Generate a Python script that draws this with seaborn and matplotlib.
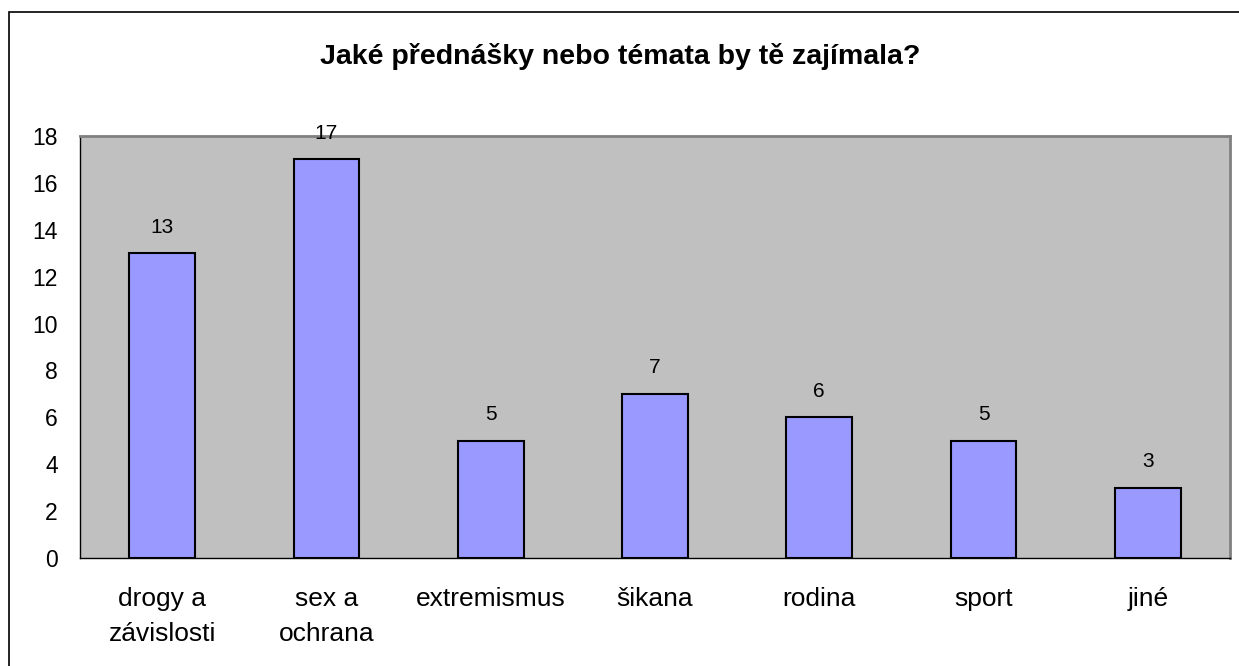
import matplotlib
matplotlib.use('Agg')
import matplotlib.pyplot as plt
import seaborn as sns
import numpy as np
import pandas as pd
from matplotlib.patches import Rectangle

# data
categories = ['drogy a\nzávislosti', 'sex a\nochrana', 'extremismus', 'šikana', 'rodina', 'sport', 'jiné']
counts = [13, 17, 5, 7, 6, 5, 3]
title = 'Jaké přednášky nebo témata by tě zajímala?'

df = pd.DataFrame({'tema': categories, 'pocet': counts})

sns.set_theme(style='white')
plt.rcParams['font.family'] = ['Liberation Sans', 'DejaVu Sans']

fig = plt.figure(figsize=(12.39, 6.66), dpi=100)
ax = fig.add_axes([80 / 1239, 1 - 558 / 666, 1150 / 1239, 422 / 666])

sns.barplot(data=df, x='tema', y='pocet', ax=ax, color='#9999FF',
            saturation=1, width=0.4, edgecolor='black', linewidth=1.5)

ax.set_facecolor('#C0C0C0')
ax.set_xlim(-0.5, len(categories) - 0.5)
ax.set_ylim(0, 18)
ax.set_yticks(np.arange(0, 19, 2))
ax.set_xlabel('')
ax.set_ylabel('')

# ticks between categories
ax.set_xticks(np.arange(-0.5, len(categories), 1), minor=True)
ax.tick_params(axis='x', which='major', length=0, pad=21, labelsize=19)
ax.tick_params(axis='x', which='minor', length=7, width=1, color='black', direction='out')
ax.tick_params(axis='y', length=8, width=1, color='black', direction='out', labelsize=16.5, pad=8)
ax.tick_params(axis='both', labelcolor='black')
for lbl in ax.get_xticklabels():
    lbl.set_linespacing(1.55)

for side in ['top', 'right']:
    ax.spines[side].set_color('#808080')
    ax.spines[side].set_linewidth(2)
for side in ['left', 'bottom']:
    ax.spines[side].set_color('black')
    ax.spines[side].set_linewidth(1)

for c in ax.containers:
    ax.bar_label(c, labels=[str(v) for v in counts], padding=12, fontsize=15, color='black')

fig.text(620 / 1239, 1 - 57 / 666, title, ha='center', va='center',
         fontsize=20.5, fontweight='bold', color='black')

# outer chart frame (cut off at right and bottom)
fig.patches.append(Rectangle((9 / 1239, -0.05), 1.1, 1 - 12 / 666 + 0.05,
                             transform=fig.transFigure, fill=False,
                             edgecolor='black', linewidth=1.2))

fig.savefig('out.png', dpi=100)
